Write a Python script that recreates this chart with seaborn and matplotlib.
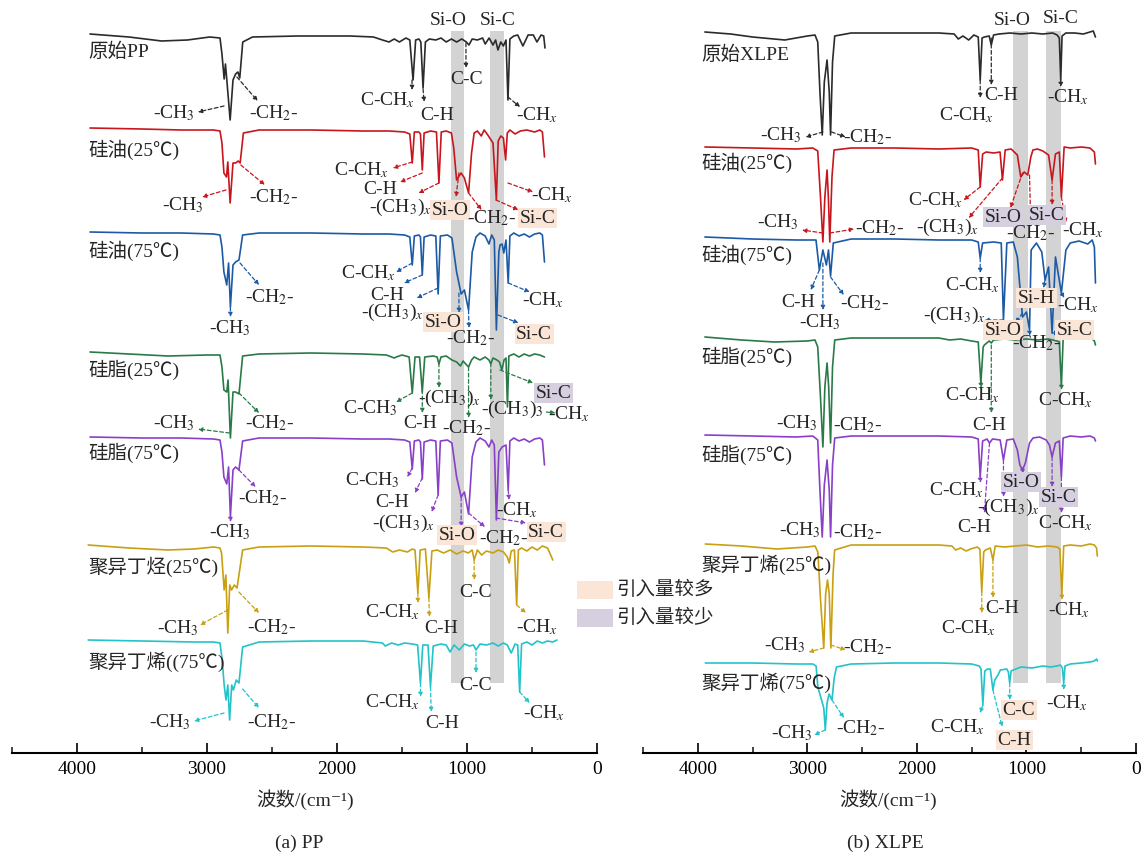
import pandas as pd
import matplotlib

matplotlib.use("Agg")
import matplotlib.pyplot as plt
from matplotlib.patches import Rectangle
from matplotlib.ticker import MultipleLocator
import seaborn as sns

# ---------------- spectra (wavenumber, drop below baseline) ----------------
# panel (a) PP
A_PP_WN = [3900, 3600, 3350, 3150, 2980, 2900, 2885, 2868, 2858, 2845, 2822, 2800, 2780, 2762, 2748, 2725, 2650, 2300, 1900, 1720,
           1650, 1600, 1560, 1520, 1470, 1440, 1415, 1395, 1370, 1355, 1338, 1320, 1290, 1240, 1200, 1160, 1120, 1080, 1040, 1005,
           985, 960, 920, 880, 860, 830, 800, 780, 762, 740, 720, 700, 685, 670, 640, 610, 570, 530, 490, 462, 430, 410, 400]
A_PP_T = [0, 3, 7, 6, 3, 4, 20, 45, 30, 50, 86, 46, 40, 38, 44, 8, 3, 2, 2, 3,
          6, 8, 5, 8, 4, 6, 46, 6, 5, 8, 54, 8, 5, 6, 4, 8, 5, 8, 5, 8,
          11, 5, 6, 4, 10, 4, 11, 6, 16, 8, 12, 6, 66, 5, 2, 1, 12, 1, 1, 8, 1, 2, 14]

A_OIL25_WN = [3900, 3500, 3200, 2950, 2900, 2885, 2870, 2850, 2840, 2822, 2800, 2780, 2760, 2745, 2720, 2600, 2200, 1800, 1600, 1480,
              1440, 1421, 1405, 1370, 1358, 1344, 1330, 1280, 1235, 1216, 1198, 1160, 1120, 1102, 1080, 1046, 1020, 988, 965, 945,
              920, 890, 868, 840, 800, 774, 760, 740, 720, 703, 690, 670, 630, 590, 540, 480, 440, 420, 404]
A_OIL25_T = [0, 1, 2, 2, 3, 15, 45, 49, 34, 75, 35, 35, 33, 35, 5, 2, 2, 3, 3, 4,
             6, 35, 4, 4, 6, 42, 5, 3, 4, 55, 4, 3, 5, 20, 52, 45, 50, 65, 25, 5,
             3, 8, 2, 7, 15, 72, 13, 8, 10, 32, 5, 2, 6, 3, 2, 4, 2, 4, 29]

A_OIL75_WN = [3900, 3500, 3200, 2950, 2900, 2885, 2870, 2848, 2834, 2820, 2800, 2780, 2754, 2726, 2600, 2200, 1800, 1600, 1480, 1440,
              1421, 1405, 1370, 1358, 1344, 1330, 1280, 1240, 1222, 1205, 1150, 1116, 1080, 1045, 1020, 988, 960, 931, 900, 860,
              831, 810, 790, 774, 755, 746, 730, 717, 700, 683, 670, 640, 600, 560, 520, 480, 440, 420, 404]
A_OIL75_T = [0, 1, 1, 2, 3, 15, 40, 53, 31, 75, 33, 30, 28, 3, 1, 1, 2, 2, 3, 5,
             33, 4, 3, 5, 43, 5, 3, 4, 62, 4, 3, 6, 40, 62, 58, 78, 20, 5, 1, 4,
             12, 3, 8, 98, 20, 13, 12, 21, 8, 51, 4, 1, 4, 2, 5, 2, 1, 3, 30]

A_GRS25_WN = [3900, 3600, 3300, 3000, 2900, 2885, 2870, 2848, 2838, 2820, 2800, 2780, 2754, 2726, 2600, 2200, 1800, 1620, 1560, 1544,
              1500, 1445, 1421, 1400, 1365, 1344, 1325, 1260, 1230, 1216, 1200, 1160, 1116, 1080, 1050, 1030, 1010, 988, 965, 945,
              900, 860, 831, 817, 800, 770, 750, 732, 715, 700, 689, 678, 640, 600, 560, 520, 480, 440, 404]
A_GRS25_T = [0, 2, 4, 3, 3, 15, 38, 40, 28, 86, 40, 40, 42, 4, 2, 1, 2, 3, 6, 5,
             3, 5, 41, 5, 5, 40, 5, 4, 5, 12, 5, 4, 8, 10, 14, 9, 12, 15, 8, 5,
             8, 5, 8, 12, 6, 8, 10, 18, 8, 6, 55, 4, 2, 5, 2, 4, 2, 3, 5]

A_GRS75_WN = [3900, 3500, 3200, 2950, 2900, 2885, 2870, 2848, 2834, 2820, 2800, 2780, 2754, 2726, 2600, 2200, 1800, 1600, 1480, 1440,
              1421, 1405, 1370, 1358, 1344, 1330, 1280, 1240, 1222, 1205, 1150, 1116, 1080, 1045, 1020, 988, 960, 931, 900, 860,
              831, 810, 790, 774, 755, 730, 700, 683, 670, 640, 600, 560, 520, 480, 440, 420, 404]
A_GRS75_T = [0, 1, 1, 2, 3, 15, 40, 47, 30, 80, 33, 30, 33, 4, 1, 1, 2, 2, 3, 5,
             32, 4, 3, 5, 42, 5, 3, 4, 58, 4, 3, 6, 40, 60, 55, 77, 20, 5, 1, 4,
             10, 3, 8, 83, 15, 10, 8, 53, 4, 1, 4, 2, 5, 2, 1, 3, 28]

A_PIB25_WN = [3914, 3600, 3300, 3100, 2950, 2900, 2888, 2868, 2855, 2840, 2825, 2811, 2790, 2769, 2726, 2600, 2200, 1800, 1620, 1572,
              1520, 1458, 1420, 1400, 1378, 1360, 1320, 1293, 1270, 1230, 1180, 1130, 1080, 1030, 990, 960, 945, 920, 888, 850,
              800, 760, 720, 690, 675, 660, 635, 618, 605, 580, 540, 500, 460, 420, 380, 340]
A_PIB25_T = [0, 3, 5, 4, 2, 3, 8, 45, 30, 88, 40, 45, 40, 43, 5, 2, 1, 2, 3, 7,
             5, 7, 4, 5, 48, 5, 4, 53, 6, 5, 8, 5, 9, 6, 8, 5, 15, 5, 10, 6,
             8, 5, 7, 12, 18, 6, 5, 60, 5, 3, 6, 2, 5, 1, 3, 15]

A_PIB75_WN = [3914, 3500, 3100, 2950, 2900, 2883, 2868, 2854, 2840, 2826, 2810, 2797, 2775, 2754, 2726, 2600, 2200, 1800, 1650, 1629,
              1580, 1530, 1480, 1420, 1380, 1358, 1340, 1300, 1281, 1260, 1200, 1160, 1130, 1100, 1059, 1020, 980, 950, 931, 900,
              850, 800, 760, 720, 690, 660, 630, 610, 595, 580, 540, 500, 460, 420, 380, 340, 308]
A_PIB75_T = [0, 1, 2, 2, 3, 20, 45, 60, 45, 80, 45, 50, 40, 43, 7, 2, 1, 1, 3, 6,
             3, 5, 3, 4, 5, 43, 5, 5, 47, 6, 4, 5, 12, 5, 10, 4, 6, 5, 10, 4,
             5, 3, 6, 3, 5, 13, 4, 5, 52, 4, 2, 5, 1, 3, 1, 2, 0]

# panel (b) XLPE
B_XLPE_WN = [3935, 3700, 3500, 3206, 3000, 2930, 2905, 2885, 2864, 2845, 2820, 2800, 2788, 2770, 2750, 2600, 2200, 1800, 1660, 1622,
             1580, 1527, 1480, 1440, 1422, 1405, 1384, 1340, 1321, 1300, 1250, 1150, 1050, 950, 850, 760, 720, 700, 687, 675,
             640, 560, 480, 420, 390, 370]
B_XLPE_T = [0, 2, 5, 8, 4, 3, 10, 60, 103, 50, 28, 60, 103, 30, 4, 1, 1, 1, 2, 7,
            4, 8, 3, 5, 48, 6, 5, 4, 13, 3, 2, 1, 2, 1, 2, 1, 3, 6, 48, 4,
            1, 1, 2, 0, -1, 5]

B_OIL25_WN = [3935, 3500, 3100, 2950, 2905, 2880, 2858, 2840, 2820, 2808, 2795, 2775, 2756, 2600, 2200, 1800, 1500, 1440, 1422, 1400,
              1368, 1300, 1241, 1219, 1194, 1140, 1083, 1052, 1020, 988, 960, 941, 900, 850, 798, 766, 735, 700, 681, 656,
              600, 500, 420, 380, 370]
B_OIL25_T = [0, 1, 2, 1, 4, 50, 95, 50, 23, 50, 95, 30, 3, 1, 1, 2, 1, 3, 40, 7,
             5, 6, 5, 33, 3, 2, 8, 30, 25, 28, 10, 3, 2, 4, 8, 33, 7, 5, 50, 0,
             1, 0, 1, 5, 17]

B_OIL75_WN = [3935, 3500, 3100, 2950, 2921, 2890, 2858, 2826, 2807, 2788, 2763, 2600, 2200, 1800, 1500, 1440, 1422, 1400, 1300, 1230,
              1210, 1179, 1120, 1083, 1036, 1000, 972, 957, 909, 860, 830, 798, 766, 735, 681, 640, 600, 520, 440, 400,
              380, 370]
B_OIL75_T = [0, 2, 3, 3, 3, 33, 13, 28, 13, 39, 6, 2, 2, 3, 3, 5, 21, 6, 5, 6,
             83, 6, 5, 20, 80, 75, 93, 13, 6, 15, 43, 30, 96, 20, 56, 13, 6, 4, 7, 3,
             10, 46]

B_GRS25_WN = [3935, 3600, 3300, 3000, 2930, 2905, 2880, 2858, 2840, 2820, 2805, 2788, 2770, 2750, 2600, 2200, 1800, 1700, 1600, 1500,
              1440, 1416, 1395, 1384, 1340, 1321, 1300, 1200, 1100, 1000, 900, 800, 720, 700, 681, 665, 600, 500, 420, 380,
              370]
B_GRS25_T = [0, 3, 5, 4, 3, 10, 60, 110, 50, 26, 50, 106, 30, 3, 1, 1, 1, 3, 2, 4,
             5, 46, 10, 8, 4, 6, 3, 2, 3, 2, 3, 2, 4, 5, 49, 2, 0, 1, 0, 4,
             8]

B_GRS75_WN = [3935, 3500, 3100, 2950, 2905, 2885, 2864, 2845, 2820, 2800, 2788, 2770, 2750, 2600, 2200, 1800, 1500, 1440, 1422, 1400,
              1360, 1337, 1310, 1240, 1210, 1179, 1120, 1083, 1060, 1036, 1010, 972, 940, 880, 820, 790, 766, 735, 700, 681,
              665, 600, 500, 420, 380, 370]
B_GRS75_T = [0, 1, 2, 1, 5, 55, 102, 50, 25, 55, 102, 30, 3, 1, 1, 1, 2, 4, 42, 6,
             4, 8, 4, 5, 25, 5, 4, 15, 30, 35, 28, 8, 3, 2, 5, 10, 22, 8, 6, 42,
             3, 1, 2, 1, 3, 6]

B_PIB25_WN = [3931, 3600, 3278, 3000, 2930, 2904, 2880, 2850, 2833, 2816, 2800, 2785, 2765, 2751, 2600, 2200, 1800, 1680, 1646, 1600,
              1550, 1510, 1450, 1425, 1408, 1390, 1374, 1330, 1306, 1285, 1200, 1100, 1000, 900, 800, 720, 695, 677, 660, 600,
              500, 420, 380, 360, 353]
B_PIB25_T = [0, 2, 5, 3, 2, 8, 55, 104, 50, 36, 50, 104, 30, 6, 1, 1, 1, 2, 6, 4,
             7, 5, 3, 5, 48, 8, 6, 4, 16, 2, 3, 2, 1, 3, 2, 3, 5, 51, 2, 1,
             2, 0, 1, 4, 12]

B_PIB75_WN = [3931, 3500, 3100, 2950, 2920, 2904, 2870, 2850, 2836, 2820, 2802, 2775, 2755, 2734, 2600, 2200, 1800, 1500, 1430, 1415,
              1398, 1380, 1357, 1330, 1306, 1289, 1260, 1238, 1180, 1165, 1153, 1140, 1119, 1050, 950, 850, 780, 720, 690, 672,
              660, 648, 600, 500, 420, 380, 360, 353]
B_PIB75_T = [0, 0, 1, 1, 3, 24, 37, 45, 67, 40, 31, 37, 15, 4, 1, 0, 0, 1, 3, 6,
             42, 8, 6, 6, 27, 17, 12, 7, 6, 9, 20, 8, 7, 4, 5, 3, 4, 3, 2, 5,
             20, 3, 1, 0, -1, -2, -4, -2]

NAMES_A = ["原始PP", "硅油(25℃)", "硅油(75℃)", "硅脂(25℃)", "硅脂(75℃)", "聚异丁烃(25℃)", "聚异丁烯((75℃)"]
NAMES_B = ["原始XLPE", "硅油(25℃)", "硅油(75℃)", "硅脂(25℃)", "硅脂(75℃)", "聚异丁烯(25℃)", "聚异丁烯(75℃)"]
SPEC_A = [(A_PP_WN, A_PP_T), (A_OIL25_WN, A_OIL25_T), (A_OIL75_WN, A_OIL75_T), (A_GRS25_WN, A_GRS25_T),
          (A_GRS75_WN, A_GRS75_T), (A_PIB25_WN, A_PIB25_T), (A_PIB75_WN, A_PIB75_T)]
SPEC_B = [(B_XLPE_WN, B_XLPE_T), (B_OIL25_WN, B_OIL25_T), (B_OIL75_WN, B_OIL75_T), (B_GRS25_WN, B_GRS25_T),
          (B_GRS75_WN, B_GRS75_T), (B_PIB25_WN, B_PIB25_T), (B_PIB75_WN, B_PIB75_T)]

# ---------------- layout / style ----------------
COLORS = ["#2b2b2b", "#c8161d", "#1c5aa6", "#2a7a48", "#8a3fc8", "#c9a012", "#22c3c9"]
BASE_A = [34, 128, 232, 352, 437, 545, 640]      # vertical stacking offsets
BASE_B = [32, 147, 237, 337, 435, 544, 663]
NAME_Y_A = [52, 150, 251, 370, 453, 567, 662]
NAME_Y_B = [55, 163, 255, 357, 455, 565, 683]
BANDS_A = [(1123, 1023), (823, 715)]
BANDS_B = [(1121, 989), (820, 688)]
BAND_TOP, BAND_BOT = 31, 683
MORE = "#fae5d6"
LESS = "#d5cfe0"
BAND_COLOR = "#d3d3d3"

# annotations: (series, text, text_wn, text_y, arrow_from_wn, arrow_from_y, arrow_to_wn, arrow_to_y, box)
ANN_A = [
    (0, "-CH$_3$", 3254, 113, 2869, 106, 3070, 112, None),
    (0, "-CH$_2$-", 2485, 113, 2770, 77, 2610, 101, None),
    (0, "C-CH$_x$", 1612, 100, 1423, 80, 1423, 90, None),
    (0, "C-H", 1231, 115, 1338, 89, 1330, 102, None),
    (0, "C-C", 1000, 79, 1008, 43, 1008, 68, None),
    (0, "-CH$_x$", 462, 115, 685, 97, 592, 107, None),
    (1, "-CH$_3$", 3185, 205, 2854, 190, 3038, 197, None),
    (1, "-CH$_2$-", 2485, 197, 2740, 165, 2555, 185, None),
    (1, "C-CH$_x$", 1815, 170, 1421, 162, 1570, 168, None),
    (1, "C-H", 1670, 189, 1344, 173, 1515, 182, None),
    (1, "-(CH$_3$)$_x$", 1515, 207, 1216, 183, 1373, 193, None),
    (1, "Si-O", 1130, 210, 1062, 173, 1085, 197, "more"),
    (1, "-CH$_2$-", 808, 218, 988, 193, 888, 210, None),
    (1, "Si-C", 455, 218, 777, 200, 604, 210, "more"),
    (1, "-CH$_x$", 346, 195, 685, 183, 492, 192, None),
    (2, "-CH$_2$-", 2515, 297, 2746, 263, 2600, 285, None),
    (2, "-CH$_3$", 2823, 328, 2820, 307, 2820, 317, None),
    (2, "C-CH$_x$", 1758, 273, 1421, 263, 1546, 272, None),
    (2, "C-H", 1615, 295, 1344, 275, 1485, 283, None),
    (2, "-(CH$_3$)$_x$", 1572, 312, 1222, 288, 1387, 298, None),
    (2, "Si-O", 1182, 322, 1062, 293, 1062, 313, "more"),
    (2, "-CH$_2$-", 974, 338, 988, 310, 985, 328, None),
    (2, "Si-C", 484, 334, 762, 315, 604, 323, "more"),
    (2, "-CH$_x$", 418, 300, 683, 283, 518, 292, None),
    (3, "-CH$_3$", 3254, 423, 2826, 433, 3069, 429, None),
    (3, "-CH$_2$-", 2515, 423, 2754, 393, 2600, 413, None),
    (3, "C-CH$_3$", 1745, 408, 1421, 393, 1546, 402, None),
    (3, "C-H", 1361, 423, 1344, 390, 1344, 413, None),
    (3, "-(CH$_3$)$_x$", 1131, 398, 1216, 363, 1216, 388, None),
    (3, "-CH$_2$-", 1000, 428, 988, 367, 988, 418, None),
    (3, "-(CH$_3$)$_3$", 650, 409, 817, 363, 817, 400, None),
    (3, "-CH$_x$", 215, 414, 390, 412, 320, 413, None),
    (3, "Si-C", 333, 393, 746, 370, 492, 383, "less"),
    (4, "-CH$_2$-", 2570, 498, 2754, 470, 2626, 487, None),
    (4, "-CH$_3$", 2823, 532, 2820, 517, 2820, 522, None),
    (4, "C-CH$_3$", 1730, 480, 1421, 468, 1460, 477, None),
    (4, "C-H", 1572, 502, 1344, 478, 1401, 493, None),
    (4, "-(CH$_3$)$_x$", 1487, 523, 1222, 495, 1273, 512, None),
    (4, "Si-O", 1077, 535, 1045, 497, 1045, 527, "more"),
    (4, "-CH$_2$-", 718, 538, 988, 513, 862, 527, None),
    (4, "Si-C", 392, 532, 777, 518, 546, 523, "more"),
    (4, "-CH$_x$", 618, 510, 683, 490, 677, 500, None),
    (5, "-CH$_3$", 3225, 628, 2840, 610, 3054, 625, None),
    (5, "-CH$_2$-", 2500, 627, 2755, 592, 2600, 613, None),
    (5, "C-CH$_x$", 1572, 612, 1378, 593, 1378, 603, None),
    (5, "C-H", 1202, 628, 1293, 598, 1290, 617, None),
    (5, "C-C", 931, 592, 945, 560, 945, 580, None),
    (5, "-CH$_x$", 462, 627, 618, 605, 546, 613, None),
    (6, "-CH$_3$", 3285, 722, 2869, 713, 3100, 721, None),
    (6, "-CH$_2$-", 2500, 722, 2726, 689, 2600, 708, None),
    (6, "C-CH$_x$", 1572, 702, 1358, 683, 1358, 697, None),
    (6, "C-H", 1188, 723, 1281, 687, 1275, 712, None),
    (6, "C-C", 931, 685, 931, 652, 931, 673, None),
    (6, "-CH$_x$", 408, 713, 595, 692, 518, 703, None),
]

ANN_B = [
    (0, "-CH$_3$", 3238, 135, 2858, 132, 3016, 137, None),
    (0, "-CH$_2$-", 2446, 137, 2779, 132, 2652, 137, None),
    (0, "C-CH$_x$", 1543, 115, 1422, 80, 1422, 98, None),
    (0, "C-H", 1226, 95, 1321, 38, 1321, 85, None),
    (0, "-CH$_x$", 624, 97, 687, 80, 687, 87, None),
    (1, "-CH$_3$", 3270, 222, 2858, 233, 3048, 230, None),
    (1, "-CH$_2$-", 2335, 228, 2794, 233, 2573, 229, None),
    (1, "C-CH$_x$", 1828, 200, 1422, 187, 1574, 200, None),
    (1, "-(CH$_3$)$_x$", 1717, 227, 1219, 178, 1527, 218, None),
    (1, "Si-O", 1210, 217, 1036, 173, 1147, 208, "less"),
    (1, "Si-C", 814, 215, 766, 180, 766, 205, "less"),
    (1, "-CH$_2$-", 957, 233, 972, 175, 960, 227, None),
    (1, "-CH$_x$", 481, 230, 681, 197, 640, 223, None),
    (2, "C-H", 3080, 302, 2890, 270, 2969, 290, None),
    (2, "-CH$_3$", 2890, 322, 2858, 263, 2858, 310, None),
    (2, "-CH$_2$-", 2478, 303, 2788, 277, 2668, 295, None),
    (2, "C-CH$_x$", 1495, 285, 1422, 258, 1422, 273, None),
    (2, "-(CH$_3$)$_x$", 1654, 315, 1210, 320, 1384, 320, None),
    (2, "Si-O", 1210, 330, 1036, 313, 1100, 323, "more"),
    (2, "Si-H", 909, 298, 830, 280, 845, 288, "more"),
    (2, "-CH$_2$-", 909, 343, 972, 330, 972, 336, None),
    (2, "Si-C", 560, 330, 766, 333, 700, 333, "more"),
    (2, "-CH$_x$", 528, 305, 681, 293, 655, 298, None),
    (3, "-CH$_3$", 3096, 423, None, None, None, None, None),
    (3, "-CH$_2$-", 2541, 425, None, None, None, None, None),
    (3, "C-CH$_x$", 1495, 395, 1416, 381, 1416, 388, None),
    (3, "C-H", 1337, 425, 1321, 345, 1321, 413, None),
    (3, "C-CH$_x$", 640, 400, 681, 384, 681, 390, None),
    (4, "-CH$_3$", 3064, 530, None, None, None, None, None),
    (4, "-CH$_2$-", 2541, 532, None, None, None, None, None),
    (4, "C-CH$_x$", 1638, 490, 1422, 476, 1422, 483, None),
    (4, "-(CH$_3$)$_x$", 1162, 507, 1210, 460, 1210, 497, None),
    (4, "C-H", 1479, 527, 1337, 443, 1384, 513, None),
    (4, "Si-O", 1052, 482, 1036, 468, 1036, 474, "less"),
    (4, "Si-C", 703, 497, 766, 457, 766, 487, "less"),
    (4, "C-CH$_x$", 640, 523, 681, 477, 681, 513, None),
    (5, "-CH$_3$", 3210, 645, 2850, 648, 2989, 652, None),
    (5, "-CH$_2$-", 2445, 647, 2785, 645, 2649, 650, None),
    (5, "C-CH$_x$", 1527, 628, 1408, 592, 1408, 613, None),
    (5, "C-H", 1221, 608, 1306, 560, 1306, 598, None),
    (5, "-CH$_x$", 609, 610, 677, 594, 677, 600, None),
    (6, "-CH$_3$", 3143, 733, 2836, 730, 2938, 735, None),
    (6, "-CH$_2$-", 2513, 728, 2775, 700, 2666, 718, None),
    (6, "C-CH$_x$", 1629, 727, 1398, 705, 1425, 713, None),
    (6, "C-C", 1068, 710, 1153, 683, 1153, 700, "more"),
    (6, "C-H", 1109, 740, 1306, 690, 1221, 727, "more"),
    (6, "-CH$_x$", 626, 703, 660, 683, 660, 690, None),
]

# ---------------- figure ----------------
sns.set_style("white")
plt.rcParams["font.family"] = ["Liberation Serif", "Noto Sans CJK SC", "DejaVu Sans"]
plt.rcParams["mathtext.fontset"] = "stix"

W, H = 1145, 855
fig = plt.figure(figsize=(W / 100, H / 100), dpi=100)
ax_a = fig.add_axes([12 / W, (H - 753) / H, 585 / W, 753 / H])
ax_b = fig.add_axes([643 / W, (H - 753) / H, 493 / W, 753 / H])


def build_frame(names, specs, bases):
    rows = []
    for name, (wn, t), base in zip(names, specs, bases):
        df = pd.DataFrame({"wn": wn, "drop": t})
        df["sample"] = name
        df["y"] = base + df["drop"]
        rows.append(df)
    return pd.concat(rows, ignore_index=True)


def draw_panel(ax, names, specs, bases, name_y, name_wn, bands, ann, top_labels):
    df = build_frame(names, specs, bases)
    for lo_hi in bands:
        ax.fill_betweenx([BAND_TOP, BAND_BOT], lo_hi[0], lo_hi[1], color=BAND_COLOR, lw=0, zorder=0)
    sns.lineplot(data=df, x="wn", y="y", hue="sample", palette=dict(zip(names, COLORS)),
                 sort=False, estimator=None, legend=False, lw=1.2, ax=ax, zorder=2)

    for name, y in zip(names, name_y):
        ax.text(name_wn, y, name, ha="left", va="center", fontsize=14, zorder=5)

    for txt, wn, y in top_labels:
        ax.text(wn, y, txt, ha="center", va="center", fontsize=14)

    for s, txt, tw, ty, x0, y0, x1, y1, box in ann:
        c = COLORS[s]
        if x0 is not None:
            ax.annotate("", xy=(x1, y1), xytext=(x0, y0),
                        arrowprops=dict(arrowstyle="-|>", color=c, lw=0.9, ls=(0, (3, 2)),
                                        mutation_scale=6, shrinkA=0, shrinkB=0), zorder=3)
        bbox = None
        if box is not None:
            bbox = dict(boxstyle="square,pad=0.08", fc=MORE if box == "more" else LESS, ec="none")
        ax.text(tw, ty, txt, ha="center", va="center", fontsize=14, bbox=bbox, zorder=4)

    ax.set_xlim(4500, 0)
    ax.set_ylim(753, 0)
    ax.set_xlabel("")
    ax.set_ylabel("")
    ax.set_yticks([])
    for side in ["top", "left", "right"]:
        ax.spines[side].set_visible(False)
    ax.spines["bottom"].set_linewidth(1.5)
    ax.spines["bottom"].set_color("black")
    ax.xaxis.set_major_locator(MultipleLocator(1000))
    ax.xaxis.set_minor_locator(MultipleLocator(500))
    ax.tick_params(axis="x", which="major", direction="in", length=7, width=1.2,
                   labelsize=14, pad=6, bottom=True, colors="black")
    ax.tick_params(axis="x", which="minor", direction="in", length=4, width=1.2, bottom=True)
    ax.patch.set_alpha(0)


draw_panel(ax_a, NAMES_A, SPEC_A, BASE_A, NAME_Y_A, 3915, BANDS_A, ANN_A,
           [("Si-O", 1146, 20), ("Si-C", 762, 20)])
draw_panel(ax_b, NAMES_B, SPEC_B, BASE_B, NAME_Y_B, 3965, BANDS_B, ANN_B,
           [("Si-O", 1131, 20), ("Si-C", 687, 18)])

# legend for highlight boxes
fig.add_artist(Rectangle((577 / W, 1 - 599 / H), 36 / W, 18 / H, transform=fig.transFigure,
                         fc=MORE, ec="none"))
fig.add_artist(Rectangle((577 / W, 1 - 627 / H), 36 / W, 18 / H, transform=fig.transFigure,
                         fc=LESS, ec="none"))
fig.text(616 / W, 1 - 590 / H, "引入量较多", ha="left", va="center", fontsize=14)
fig.text(616 / W, 1 - 618 / H, "引入量较少", ha="left", va="center", fontsize=14)

fig.text(305 / W, 1 - 800 / H, "波数/(cm⁻¹)", ha="center", va="center", fontsize=14)
fig.text(888 / W, 1 - 800 / H, "波数/(cm⁻¹)", ha="center", va="center", fontsize=14)
fig.text(299 / W, 1 - 843 / H, "(a) PP", ha="center", va="center", fontsize=14)
fig.text(885 / W, 1 - 843 / H, "(b) XLPE", ha="center", va="center", fontsize=14)

fig.savefig("out.png", dpi=100, facecolor="white")
